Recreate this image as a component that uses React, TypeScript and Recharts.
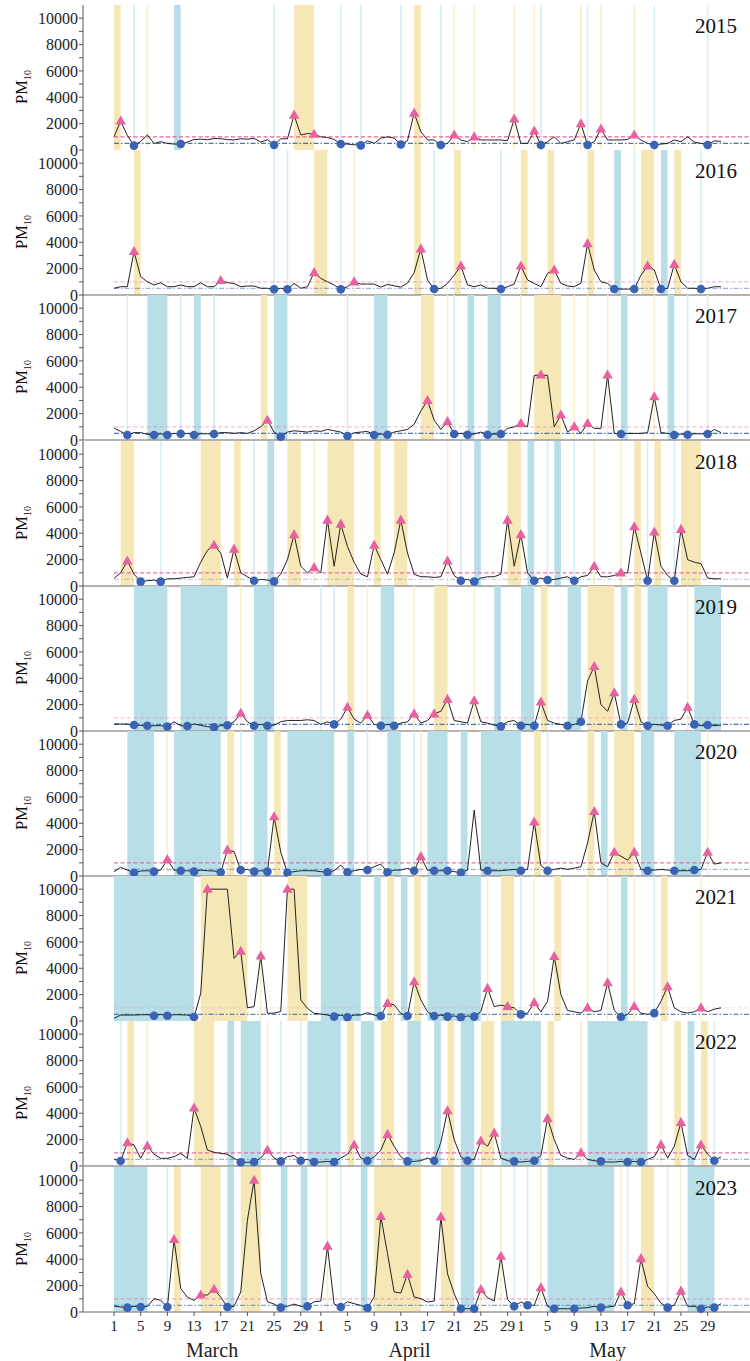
import React from "react"
import {
  ComposedChart,
  Line,
  Scatter,
  XAxis,
  YAxis,
  ReferenceArea,
  ReferenceLine,
} from "recharts"

type Band = [number, number, "y" | "b"]

// day index 0 = 1 March, 91 = 31 May
const years = [2015, 2016, 2017, 2018, 2019, 2020, 2021, 2022, 2023]

const pm2015 = [1000, 2200, 1100, 330, 650, 1140, 500, 630, 500, 450, 450, 600, 800, 820, 780, 870, 860, 790, 760, 850, 820, 880, 600, 780, 380, 850, 850, 2650, 1140, 1250, 1200, 1000, 950, 800, 450, 450, 400, 350, 700, 500, 900, 1000, 900, 420, 700, 2800, 1390, 760, 760, 380, 500, 1140, 760, 630, 1000, 760, 760, 760, 760, 700, 2350, 500, 500, 1440, 380, 630, 1000, 500, 630, 760, 2000, 380, 630, 1600, 760, 760, 760, 800, 1140, 760, 500, 380, 450, 500, 760, 630, 1000, 600, 500, 380, 700, 650]
const pm2016 = [510, 630, 630, 3300, 1390, 1000, 760, 930, 630, 630, 760, 630, 630, 930, 630, 630, 1100, 930, 880, 630, 680, 680, 510, 510, 430, 510, 430, 880, 510, 630, 1700, 1260, 1000, 760, 430, 630, 1000, 830, 830, 830, 600, 800, 700, 600, 900, 1700, 3500, 1140, 450, 510, 880, 1500, 2200, 760, 630, 760, 510, 510, 450, 630, 830, 2200, 1140, 880, 630, 1650, 1900, 880, 680, 630, 900, 3900, 1900, 1000, 880, 450, 450, 450, 450, 1500, 2200, 1900, 450, 510, 2330, 1000, 510, 510, 450, 510, 630, 630]
const pm2017 = [900, 650, 380, 560, 560, 420, 380, 470, 380, 500, 470, 500, 380, 470, 470, 450, 560, 560, 500, 560, 500, 700, 1000, 1500, 600, 250, 600, 700, 650, 600, 700, 650, 800, 700, 600, 300, 550, 600, 650, 380, 450, 400, 600, 700, 800, 1200, 2200, 3000, 1500, 800, 1400, 450, 500, 400, 450, 600, 400, 450, 450, 880, 1000, 1260, 1000, 4900, 4930, 4900, 1000, 1900, 600, 1000, 500, 1260, 880, 880, 4930, 500, 450, 500, 500, 500, 560, 3290, 560, 500, 380, 450, 400, 470, 470, 450, 800, 560]
const pm2018 = [580, 1000, 1900, 900, 330, 400, 450, 330, 550, 550, 600, 650, 700, 1800, 2700, 3100, 2500, 600, 2800, 1000, 700, 400, 500, 450, 350, 900, 2000, 3900, 1500, 1000, 1400, 1000, 5000, 1500, 4700, 3000, 1800, 900, 700, 3100, 2000, 900, 2500, 5000, 2500, 900, 700, 700, 650, 700, 1900, 800, 400, 500, 330, 600, 700, 700, 900, 5000, 1500, 3900, 1000, 400, 600, 450, 500, 600, 700, 400, 700, 800, 1500, 700, 700, 800, 1000, 1000, 4500, 2500, 400, 4100, 1500, 800, 400, 4300, 2000, 1800, 1700, 600, 550, 550]
const pm2019 = [530, 530, 530, 450, 430, 400, 400, 400, 330, 700, 400, 380, 530, 430, 330, 280, 400, 430, 700, 1350, 700, 400, 500, 400, 450, 700, 800, 800, 800, 850, 800, 500, 700, 500, 900, 1800, 900, 600, 1200, 500, 400, 500, 400, 600, 700, 1300, 600, 800, 1300, 1500, 2400, 800, 700, 600, 2300, 700, 600, 450, 350, 700, 800, 400, 500, 400, 2200, 800, 600, 500, 400, 500, 700, 3800, 4900, 2000, 1500, 2900, 500, 600, 2400, 700, 400, 500, 450, 400, 800, 900, 1800, 500, 400, 450, 400, 450]
const pm2020 = [330, 660, 450, 250, 380, 400, 330, 450, 1260, 450, 400, 400, 330, 450, 400, 380, 280, 1970, 1850, 450, 500, 330, 400, 330, 4500, 1800, 250, 330, 400, 400, 400, 330, 280, 400, 830, 280, 400, 500, 450, 700, 900, 280, 450, 450, 580, 400, 1470, 450, 400, 400, 400, 330, 250, 450, 5000, 450, 400, 400, 400, 450, 500, 400, 500, 4100, 800, 400, 500, 600, 500, 600, 700, 2500, 4900, 1000, 700, 1800, 1500, 1200, 1800, 500, 400, 450, 500, 450, 400, 400, 400, 450, 500, 1800, 900, 1000]
const pm2021 = [200, 450, 450, 450, 470, 480, 400, 500, 400, 480, 470, 450, 300, 2100, 10000, 10000, 10000, 10000, 4750, 5300, 1000, 1090, 4930, 580, 600, 720, 10000, 10000, 1600, 960, 580, 530, 450, 330, 450, 280, 450, 450, 630, 450, 380, 1340, 1220, 580, 380, 2980, 1600, 710, 380, 450, 330, 380, 280, 380, 330, 720, 2480, 1090, 1200, 1100, 1000, 500, 600, 1400, 700, 1500, 4900, 2000, 800, 700, 600, 1000, 700, 800, 2900, 800, 300, 500, 1100, 600, 500, 600, 1500, 2600, 1000, 700, 600, 700, 1000, 700, 900, 1000]
const pm2022 = [500, 380, 1770, 1600, 580, 1520, 890, 580, 580, 710, 960, 580, 4400, 3000, 1210, 1040, 960, 890, 580, 280, 280, 300, 600, 1200, 600, 350, 700, 800, 400, 500, 300, 300, 350, 300, 600, 900, 1600, 600, 400, 700, 1200, 2400, 1500, 700, 350, 350, 400, 600, 400, 1800, 4200, 2000, 700, 400, 500, 1900, 1500, 2500, 600, 400, 350, 300, 350, 400, 800, 3600, 2000, 800, 600, 500, 1000, 500, 400, 350, 300, 300, 350, 300, 350, 300, 500, 700, 1600, 600, 1500, 3300, 800, 500, 1600, 900, 400, 700]
const pm2023 = [450, 380, 330, 430, 380, 430, 1010, 880, 380, 5500, 1790, 1130, 880, 1290, 1290, 1720, 1130, 380, 430, 1520, 6960, 10000, 2940, 780, 600, 330, 430, 600, 430, 430, 780, 830, 5000, 600, 380, 780, 630, 500, 300, 1140, 7260, 4430, 1520, 1440, 2860, 1140, 1010, 760, 830, 7210, 2900, 1390, 250, 250, 250, 1700, 1090, 830, 4230, 940, 430, 760, 510, 510, 1850, 430, 250, 250, 250, 250, 300, 330, 430, 330, 380, 430, 1520, 510, 630, 4050, 1950, 1390, 680, 330, 510, 1590, 430, 430, 250, 380, 330, 630]

const peaks = [
  [1, 27, 30, 45, 51, 54, 60, 63, 70, 73, 78],
  [3, 16, 30, 36, 46, 52, 61, 66, 71, 80, 84],
  [23, 47, 50, 61, 64, 67, 69, 71, 74, 81],
  [2, 15, 18, 27, 30, 32, 34, 39, 43, 50, 59, 61, 72, 76, 78, 81, 85],
  [19, 35, 38, 45, 48, 50, 54, 64, 72, 75, 78, 86],
  [8, 17, 24, 46, 63, 72, 75, 78, 89],
  [14, 19, 22, 26, 41, 45, 56, 59, 63, 66, 71, 74, 78, 83, 88],
  [2, 5, 12, 23, 36, 41, 50, 55, 57, 65, 70, 82, 85, 88],
  [9, 13, 15, 21, 32, 40, 44, 49, 55, 58, 64, 76, 79, 85],
]

const lows = [
  [3, 10, 24, 34, 37, 43, 49, 64, 71, 81, 89],
  [24, 26, 34, 48, 58, 75, 78, 82, 88],
  [2, 6, 8, 10, 12, 15, 25, 35, 39, 41, 51, 53, 56, 58, 76, 84, 86, 89],
  [4, 7, 21, 24, 52, 54, 63, 65, 69, 80, 84],
  [3, 5, 8, 11, 15, 17, 21, 23, 33, 40, 42, 58, 61, 63, 68, 70, 76, 80, 83, 87, 89],
  [3, 6, 10, 12, 16, 19, 21, 23, 26, 32, 35, 38, 41, 45, 48, 50, 52, 56, 61, 65, 80, 84, 87],
  [6, 8, 12, 33, 35, 40, 44, 48, 50, 52, 54, 61, 76, 81],
  [1, 19, 21, 25, 28, 30, 33, 38, 44, 48, 53, 60, 63, 73, 77, 79, 90],
  [2, 4, 8, 17, 25, 29, 34, 38, 52, 54, 60, 62, 66, 69, 73, 77, 83, 88, 90],
]

// event periods: [first day, last day, kind]; a single day is drawn as a thin line
const bands: Band[][] = [
  [[0, 1, "y"], [27, 30, "y"], [45, 46, "y"], [9, 10, "b"], [3, 3, "b"], [24, 24, "b"], [34, 34, "b"], [37, 37, "b"], [43, 43, "b"], [49, 49, "b"], [64, 64, "b"], [71, 71, "b"], [81, 81, "b"], [89, 89, "b"], [5, 5, "y"], [51, 51, "y"], [54, 54, "y"], [60, 60, "y"], [63, 63, "y"], [70, 70, "y"], [73, 73, "y"], [78, 78, "y"]],
  [[3, 4, "y"], [30, 32, "y"], [45, 46, "y"], [51, 52, "y"], [61, 62, "y"], [65, 66, "y"], [71, 72, "y"], [79, 81, "y"], [84, 85, "y"], [75, 76, "b"], [82, 83, "b"], [24, 24, "b"], [26, 26, "b"], [34, 34, "b"], [48, 48, "b"], [58, 58, "b"], [78, 78, "b"], [88, 88, "b"], [36, 36, "y"]],
  [[5, 8, "b"], [12, 13, "b"], [24, 26, "b"], [39, 41, "b"], [53, 54, "b"], [56, 58, "b"], [76, 77, "b"], [83, 84, "b"], [22, 23, "y"], [46, 48, "y"], [63, 67, "y"], [2, 2, "b"], [10, 10, "b"], [15, 15, "b"], [35, 35, "b"], [51, 51, "b"], [86, 86, "b"], [89, 89, "b"], [50, 50, "y"], [61, 61, "y"], [69, 69, "y"], [71, 71, "y"], [74, 74, "y"], [81, 81, "y"]],
  [[1, 3, "y"], [13, 16, "y"], [18, 19, "y"], [26, 28, "y"], [32, 36, "y"], [39, 40, "y"], [42, 44, "y"], [59, 61, "y"], [78, 79, "y"], [81, 82, "y"], [85, 88, "y"], [23, 24, "b"], [54, 55, "b"], [62, 63, "b"], [66, 67, "b"], [7, 7, "b"], [21, 21, "b"], [52, 52, "b"], [65, 65, "b"], [69, 69, "b"], [80, 80, "b"], [84, 84, "b"], [30, 30, "y"], [50, 50, "y"], [72, 72, "y"], [76, 76, "y"]],
  [[3, 8, "b"], [10, 17, "b"], [21, 24, "b"], [40, 42, "b"], [57, 58, "b"], [61, 63, "b"], [68, 70, "b"], [76, 77, "b"], [80, 83, "b"], [87, 91, "b"], [35, 36, "y"], [48, 50, "y"], [64, 65, "y"], [71, 75, "y"], [78, 79, "y"], [19, 19, "y"], [38, 38, "y"], [45, 45, "y"], [54, 54, "y"], [86, 86, "y"], [31, 31, "b"], [33, 33, "b"]],
  [[2, 6, "b"], [9, 16, "b"], [21, 23, "b"], [26, 33, "b"], [35, 36, "b"], [41, 43, "b"], [47, 50, "b"], [52, 53, "b"], [55, 61, "b"], [73, 74, "b"], [79, 81, "b"], [84, 88, "b"], [17, 18, "y"], [24, 25, "y"], [63, 64, "y"], [71, 72, "y"], [75, 78, "y"], [8, 8, "y"], [46, 46, "y"], [89, 89, "y"], [19, 19, "b"], [38, 38, "b"], [45, 45, "b"], [65, 65, "b"]],
  [[0, 12, "b"], [31, 37, "b"], [39, 40, "b"], [43, 44, "b"], [47, 55, "b"], [76, 77, "b"], [13, 20, "y"], [26, 29, "y"], [41, 42, "y"], [45, 46, "y"], [58, 60, "y"], [66, 67, "y"], [82, 83, "y"], [22, 22, "y"], [56, 56, "y"], [63, 63, "y"], [71, 71, "y"], [74, 74, "y"], [78, 78, "y"], [88, 88, "y"], [61, 61, "b"], [81, 81, "b"]],
  [[2, 3, "y"], [12, 15, "y"], [35, 36, "y"], [40, 42, "y"], [50, 51, "y"], [55, 57, "y"], [65, 66, "y"], [84, 85, "y"], [88, 89, "y"], [17, 18, "b"], [19, 22, "b"], [29, 34, "b"], [37, 39, "b"], [44, 46, "b"], [48, 49, "b"], [52, 54, "b"], [58, 64, "b"], [71, 80, "b"], [86, 87, "b"], [1, 1, "b"], [25, 25, "b"], [28, 28, "b"], [90, 90, "b"], [5, 5, "y"], [23, 23, "y"], [70, 70, "y"], [82, 82, "y"]],
  [[0, 5, "b"], [17, 18, "b"], [25, 26, "b"], [28, 29, "b"], [37, 38, "b"], [52, 54, "b"], [65, 75, "b"], [86, 90, "b"], [9, 10, "y"], [13, 16, "y"], [19, 22, "y"], [39, 46, "y"], [49, 51, "y"], [79, 81, "y"], [8, 8, "b"], [34, 34, "b"], [60, 60, "b"], [62, 62, "b"], [77, 77, "b"], [83, 83, "b"], [32, 32, "y"], [55, 55, "y"], [58, 58, "y"], [64, 64, "y"], [76, 76, "y"], [85, 85, "y"]],
]

const upperLevel = 1000
const lowerLevel = 500

const dayTickPos = [0, 4, 8, 12, 16, 20, 24, 28, 31, 35, 39, 43, 47, 51, 55, 59, 61, 65, 69, 73, 77, 81, 85, 89]
const dayTickLabels = ["1", "5", "9", "13", "17", "21", "25", "29", "1", "5", "9", "13", "17", "21", "25", "29", "1", "5", "9", "13", "17", "21", "25", "29"]
const monthPos = [14.7, 44.3, 74]
const monthNames = ["March", "April", "May"]
const yTicks = [0, 1000, 2000, 3000, 4000, 5000, 6000, 7000, 8000, 9000, 10000]

const series = [pm2015, pm2016, pm2017, pm2018, pm2019, pm2020, pm2021, pm2022, pm2023]

// look
const pinkAlpha = [1, 0.45, 0.4, 0.9, 0.35, 0.9, 0.2, 0.9, 0.5]
const blueAlpha = [0.9, 0.5, 0.9, 0.3, 0.9, 0.5, 0.8, 0.5, 0.6]
const showBase = [false, true, true, true, true, true, false, true, true]

const X_DOMAIN: [number, number] = [-4.65, 95.35]
const PLOT_H = 145
const PAD = 10
const ZERO0 = 150
const PITCH = 145.2
const PINK = "#e8609f"
const BLUE = "#3b63b3"
const FONT = '"Liberation Serif", "Times New Roman", serif'

const Tri = (p: any) => {
  if (p.cx == null || p.cy == null) return <g />
  const { cx, cy } = p
  return (
    <polygon
      points={`${cx},${cy - 5.5} ${cx - 5.2},${cy + 3.6} ${cx + 5.2},${cy + 3.6}`}
      fill={PINK}
    />
  )
}

const Dot = (p: any) => {
  if (p.cx == null || p.cy == null) return <g />
  return <circle cx={p.cx} cy={p.cy} r={4.3} fill={BLUE} />
}

function Panel({ k }: { k: number }) {
  const last = k === years.length - 1
  const vals = series[k]
  const rows = vals.map((v, i) => ({ x: i, v }))
  const hi = peaks[k].map((i) => ({ x: i, v: vals[i] }))
  const lo = lows[k].map((i) => ({ x: i, v: vals[i] }))
  const zero = ZERO0 + PITCH * k
  const height = PAD + PLOT_H + (last ? 52 : PAD)

  return (
    <>
      <div style={{ position: "absolute", left: 0, top: zero - PLOT_H - PAD }}>
        <ComposedChart
          width={750}
          height={height}
          data={rows}
          margin={{ top: PAD, right: 0, bottom: last ? 0 : PAD, left: 0 }}
          style={{ fontFamily: FONT }}
        >
          <XAxis
            dataKey="x"
            type="number"
            domain={X_DOMAIN}
            hide={!last}
            ticks={dayTickPos}
            interval={0}
            tickFormatter={(v: number) => dayTickLabels[dayTickPos.indexOf(v)] ?? ""}
            tick={{ fontSize: 15, fill: "#222", fontFamily: FONT }}
            tickSize={4}
            tickMargin={4}
            height={22}
            axisLine={{ stroke: "#999", strokeWidth: 1.5 }}
            tickLine={{ stroke: "#555" }}
          />
          {last && (
            <XAxis
              xAxisId="m"
              dataKey="x"
              type="number"
              domain={X_DOMAIN}
              ticks={monthPos}
              interval={0}
              tickFormatter={(v: number) => monthNames[monthPos.indexOf(v)] ?? ""}
              tick={{ fontSize: 20, fill: "#222", fontFamily: FONT }}
              tickSize={0}
              tickMargin={9}
              height={30}
              axisLine={false}
              tickLine={false}
            />
          )}
          <YAxis
            type="number"
            domain={[0, 11000]}
            ticks={yTicks}
            interval={0}
            width={83}
            tickFormatter={(v: number) => (v % 2000 === 0 ? String(v) : "")}
            tick={{ fontSize: 16, fill: "#222", fontFamily: FONT }}
            tickSize={4}
            tickMargin={1}
            axisLine={{ stroke: "#555" }}
            tickLine={{ stroke: "#555" }}
          />
          {bands[k].map(([a, b, kind], i) =>
            a === b ? (
              <ReferenceLine
                key={"l" + i}
                x={a}
                stroke={kind === "y" ? "#faefcb" : "#d6edf3"}
                strokeWidth={1.6}
              />
            ) : (
              <ReferenceArea
                key={"a" + i}
                x1={a}
                x2={b}
                fill={kind === "y" ? "#f6e8b6" : "#b8dfe8"}
                fillOpacity={1}
                stroke="none"
              />
            ),
          )}
          {showBase[k] && !last && (
            <ReferenceLine y={0} stroke="#999" strokeWidth={1.5} />
          )}
          <ReferenceLine
            segment={[{ x: 0, y: upperLevel }, { x: 95.3, y: upperLevel }]}
            stroke={PINK}
            strokeOpacity={pinkAlpha[k]}
            strokeDasharray="4 2.5"
            strokeWidth={1.3}
          />
          <ReferenceLine
            segment={[{ x: 0, y: lowerLevel }, { x: 95.3, y: lowerLevel }]}
            stroke={BLUE}
            strokeOpacity={blueAlpha[k]}
            strokeDasharray="5 2 1.5 2"
            strokeWidth={1.3}
          />
          <Line
            dataKey="v"
            type="linear"
            stroke="#222"
            strokeWidth={1}
            dot={false}
            activeDot={false}
            isAnimationActive={false}
          />
          <Scatter data={lo} dataKey="v" shape={Dot} isAnimationActive={false} />
          <Scatter data={hi} dataKey="v" shape={Tri} isAnimationActive={false} />
        </ComposedChart>
      </div>
      <div
        style={{
          position: "absolute",
          left: 0,
          width: 737,
          top: zero - 134,
          textAlign: "right",
          fontSize: 21,
          lineHeight: "21px",
          color: "#111",
        }}
      >
        {years[k]}
      </div>
      <div
        style={{
          position: "absolute",
          left: -8,
          top: zero - 74,
          width: 60,
          height: 22,
          lineHeight: "22px",
          textAlign: "center",
          fontSize: 16.5,
          color: "#111",
          transform: "rotate(-90deg)",
        }}
      >
        PM<sub style={{ fontSize: 10 }}>10</sub>
      </div>
    </>
  )
}

export default function App() {
  return (
    <div
      style={{
        position: "absolute",
        left: 0,
        top: 0,
        width: 750,
        height: 1361,
        fontFamily: FONT,
        background: "#fff",
      }}
    >
      {years.map((_, k) => (
        <Panel key={k} k={k} />
      ))}
    </div>
  )
}
